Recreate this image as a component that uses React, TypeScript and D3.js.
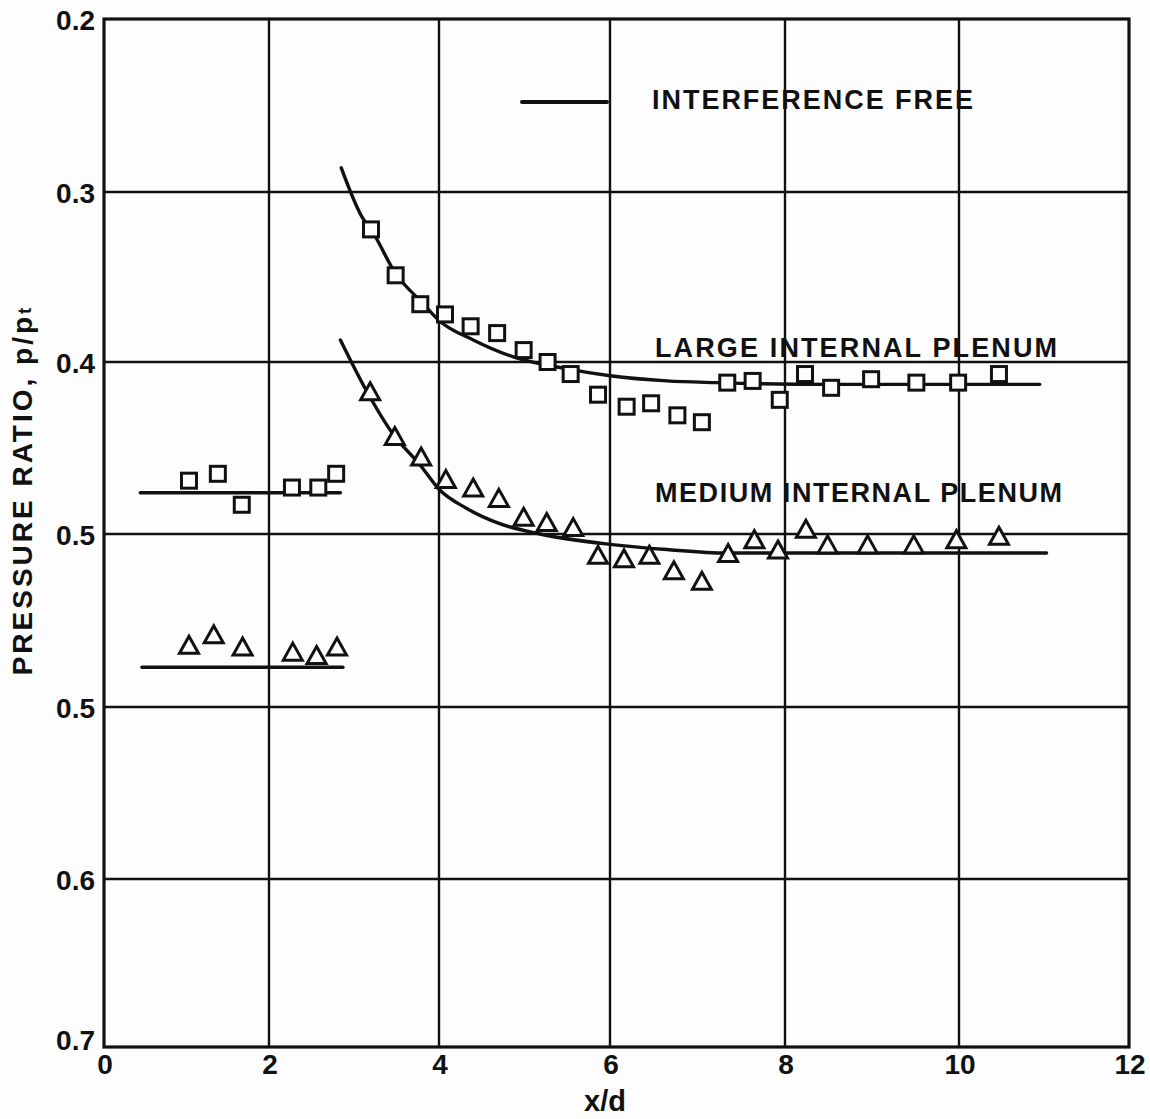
import React from "react";
import * as d3 from "d3";

// Large internal plenum (upper pressure-ratio scale)
const largeX = [3.20, 3.49, 3.78, 4.07, 4.37, 4.68, 4.99, 5.27, 5.54, 5.86, 6.19, 6.47, 6.77, 7.05, 7.34, 7.63, 7.94, 8.23, 8.53, 8.99, 9.51, 9.99, 10.47];
const largeP = [0.322, 0.349, 0.366, 0.372, 0.379, 0.383, 0.393, 0.400, 0.407, 0.419, 0.426, 0.424, 0.431, 0.435, 0.412, 0.411, 0.422, 0.407, 0.415, 0.410, 0.412, 0.412, 0.407];
const largeNearX = [1.03, 1.38, 1.67, 2.27, 2.58, 2.79];
const largeNearP = [0.469, 0.465, 0.483, 0.473, 0.473, 0.465];

// Medium internal plenum (lower pressure-ratio scale)
const mediumX = [3.19, 3.48, 3.79, 4.08, 4.40, 4.70, 4.99, 5.26, 5.57, 5.86, 6.16, 6.45, 6.73, 7.05, 7.35, 7.65, 7.92, 8.24, 8.49, 8.95, 9.48, 9.97, 10.47];
const mediumP = [0.317, 0.343, 0.355, 0.368, 0.373, 0.379, 0.390, 0.393, 0.396, 0.412, 0.414, 0.412, 0.421, 0.427, 0.411, 0.403, 0.409, 0.397, 0.406, 0.406, 0.406, 0.403, 0.401];
const mediumNearX = [1.03, 1.33, 1.68, 2.28, 2.56, 2.80];
const mediumNearP = [0.464, 0.458, 0.465, 0.468, 0.470, 0.465];

// Interference-free curves
const largeFreeX = [2.85, 3.11, 3.20, 3.49, 3.78, 4.01, 4.40, 4.87, 5.50, 6.00, 6.65, 7.22, 8.50, 10.95];
const largeFreeP = [0.286, 0.316, 0.322, 0.348, 0.364, 0.376, 0.387, 0.397, 0.404, 0.408, 0.411, 0.412, 0.413, 0.413];
const largeFreeNearX = [0.44, 2.84];
const largeFreeNearP = [0.476, 0.476];

const mediumFreeX = [2.84, 3.15, 3.46, 3.78, 4.00, 4.32, 4.71, 5.18, 6.00, 6.65, 7.33, 9.00, 11.03];
const mediumFreeP = [0.287, 0.317, 0.342, 0.360, 0.374, 0.385, 0.394, 0.400, 0.406, 0.409, 0.411, 0.411, 0.411];
const mediumFreeNearX = [0.46, 2.87];
const mediumFreeNearP = [0.477, 0.477];

// Axes
const xTicks = [0, 2, 4, 6, 8, 10, 12];
const upperTicks = [0.2, 0.3, 0.4, 0.5];
const lowerTicks = [0.5, 0.6, 0.7];

const W = 1150;
const H = 1119;
const INK = "#111";
const PAPER = "#fdfdfd";
const FONT = "'Liberation Sans', Arial, sans-serif";

// The drafted grid is slightly uneven, so the scales are piecewise linear.
const x = d3.scaleLinear().domain(xTicks).range([104, 269, 439, 610, 785, 959, 1129]);
const yRange = [19, 192, 362, 534, 707, 879, 1047];
const yUpper = d3.scaleLinear().domain([0.2, 0.3, 0.4, 0.5, 0.6, 0.7, 0.8]).range(yRange);
const yLower = d3.scaleLinear().domain([0.1, 0.2, 0.3, 0.4, 0.5, 0.6, 0.7]).range(yRange);

type Pt = [number, number];
const zip = (xs: number[], ps: number[]): Pt[] => xs.map((v, i) => [v, ps[i]]);

function curvePath(pts: Pt[], y: d3.ScaleLinear<number, number>) {
  return d3
    .line<Pt>()
    .x((d) => x(d[0]))
    .y((d) => y(d[1]))
    .curve(d3.curveMonotoneX)(pts) as string;
}

const SQ = 15;
const TW = 19;
const TH = 17;

function Squares({ pts, y }: { pts: Pt[]; y: d3.ScaleLinear<number, number> }) {
  return (
    <g fill={PAPER} stroke={INK} strokeWidth={3}>
      {pts.map((d, i) => (
        <rect key={i} x={x(d[0]) - SQ / 2} y={y(d[1]) - SQ / 2} width={SQ} height={SQ} />
      ))}
    </g>
  );
}

function Triangles({ pts, y }: { pts: Pt[]; y: d3.ScaleLinear<number, number> }) {
  return (
    <g fill={PAPER} stroke={INK} strokeWidth={3} strokeLinejoin="miter">
      {pts.map((d, i) => {
        const cx = x(d[0]);
        const cy = y(d[1]);
        return (
          <path
            key={i}
            d={`M${cx},${cy - TH / 2}L${cx + TW / 2},${cy + TH / 2}L${cx - TW / 2},${cy + TH / 2}Z`}
          />
        );
      })}
    </g>
  );
}

export default function App() {
  const xL = x(0);
  const xR = x(12);
  const yT = yUpper(0.2);
  const yB = yUpper(0.8);
  const gridY = [...upperTicks.slice(1).map((v) => yUpper(v)), ...lowerTicks.slice(0, -1).map((v) => yLower(v))];

  return (
    <svg
      width={W}
      height={H}
      style={{ position: "absolute", left: 0, top: 0, background: PAPER }}
      fontFamily={FONT}
    >
      <rect width={W} height={H} fill={PAPER} />

      {/* grid */}
      <g stroke={INK} strokeWidth={2.4}>
        {xTicks.slice(1, -1).map((t) => (
          <line key={t} x1={x(t)} x2={x(t)} y1={yT} y2={yB} />
        ))}
        {gridY.map((gy, i) => (
          <line key={i} x1={xL} x2={xR} y1={gy} y2={gy} />
        ))}
      </g>
      <rect x={xL} y={yT} width={xR - xL} height={yB - yT} fill="none" stroke={INK} strokeWidth={3.2} />

      {/* tick labels */}
      <g fill={INK} fontWeight="bold" fontSize={28}>
        {upperTicks.map((t, i) => (
          <text key={"u" + i} x={95} y={yUpper(t) + 11} textAnchor="end">
            {t.toFixed(1)}
          </text>
        ))}
        {lowerTicks.map((t, i) => (
          <text key={"l" + i} x={95} y={yLower(t) + (i === lowerTicks.length - 1 ? 3 : 11)} textAnchor="end">
            {t.toFixed(1)}
          </text>
        ))}
        {xTicks.map((t) => (
          <text key={t} x={x(t) + 1} y={1074} textAnchor="middle">
            {t}
          </text>
        ))}
      </g>

      {/* axis titles */}
      <text x={605} y={1111} textAnchor="middle" fontWeight="bold" fontSize={29} fill={INK}>
        x/d
      </text>
      <text
        transform="translate(32,490) rotate(-90)"
        textAnchor="middle"
        fontWeight="bold"
        fontSize={28}
        fill={INK}
        letterSpacing={3}
      >
        PRESSURE RATIO, p/p
        <tspan fontSize={19} dy={-1}>t</tspan>
      </text>

      {/* interference-free curves */}
      <g fill="none" stroke={INK} strokeWidth={3.4} strokeLinecap="round">
        <path d={curvePath(zip(largeFreeX, largeFreeP), yUpper)} />
        <path d={curvePath(zip(largeFreeNearX, largeFreeNearP), yUpper)} />
        <path d={curvePath(zip(mediumFreeX, mediumFreeP), yLower)} />
        <path d={curvePath(zip(mediumFreeNearX, mediumFreeNearP), yLower)} />
      </g>

      {/* measured points */}
      <Squares pts={zip(largeX, largeP)} y={yUpper} />
      <Squares pts={zip(largeNearX, largeNearP)} y={yUpper} />
      <Triangles pts={zip(mediumX, mediumP)} y={yLower} />
      <Triangles pts={zip(mediumNearX, mediumNearP)} y={yLower} />

      {/* series labels */}
      <g fill={INK} fontWeight="bold" fontSize={27}>
        <text x={655} y={357} textLength={402} lengthAdjust="spacing">
          LARGE INTERNAL PLENUM
        </text>
        <text x={655} y={502} textLength={407} lengthAdjust="spacing">
          MEDIUM INTERNAL PLENUM
        </text>
      </g>

      {/* legend */}
      <line x1={522} x2={607} y1={102} y2={102} stroke={INK} strokeWidth={4} strokeLinecap="round" />
      <text x={652} y={109} fill={INK} fontWeight="bold" fontSize={27} textLength={321} lengthAdjust="spacing">
        INTERFERENCE FREE
      </text>
    </svg>
  );
}
